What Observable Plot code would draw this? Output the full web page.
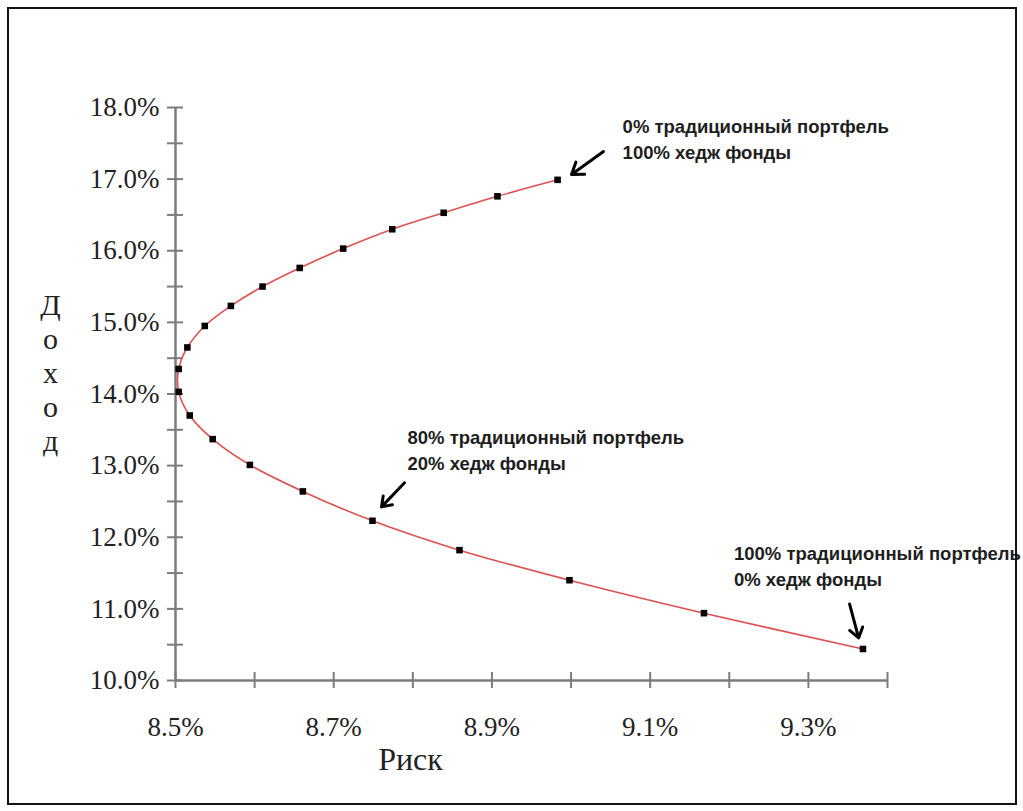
<!DOCTYPE html>
<html>
<head>
<meta charset="utf-8">
<script src="https://cdn.jsdelivr.net/npm/d3@7"></script>
<script src="https://cdn.jsdelivr.net/npm/@observablehq/plot@0.6"></script>
<style>
  html, body { margin: 0; padding: 0; background: #fff; }
  #wrap { position: relative; width: 1023px; height: 811px; overflow: hidden; }
  #frame { position: absolute; left: 7px; top: 7px; width: 1010px; height: 798px; box-sizing: border-box; border: 2px solid #111; pointer-events: none; }
</style>
</head>
<body>
<div id="wrap"><div id="chart"></div><div id="frame"></div></div>
<script>
// Share of hedge funds in the portfolio, % (0 → 100 in steps of 5)
const hedgeShare = [0, 5, 10, 15, 20, 25, 30, 35, 40, 45, 50, 55, 60, 65, 70, 75, 80, 85, 90, 95, 100];
// Risk, %
const risk = [9.369, 9.168, 8.998, 8.859, 8.749, 8.661, 8.594, 8.547, 8.518, 8.504, 8.504, 8.515, 8.537, 8.570, 8.610, 8.657, 8.712, 8.774, 8.839, 8.907, 8.983];
// Return, %
const ret = [10.44, 10.94, 11.40, 11.82, 12.23, 12.64, 13.01, 13.37, 13.70, 14.03, 14.35, 14.65, 14.95, 15.23, 15.50, 15.76, 16.03, 16.30, 16.53, 16.76, 16.99];

const xTicks = [8.5, 8.6, 8.7, 8.8, 8.9, 9.0, 9.1, 9.2, 9.3, 9.4];
const xTickLabels = [8.5, 8.7, 8.9, 9.1, 9.3];
const yTicks = [10, 10.5, 11, 11.5, 12, 12.5, 13, 13.5, 14, 14.5, 15, 15.5, 16, 16.5, 17, 17.5, 18];
const yTickLabels = [10, 11, 12, 13, 14, 15, 16, 17, 18];

const xLabel = "Риск";
const yLabel = "Доход";

// Annotations: index of the annotated point and its two text lines
const annoIndex = [20, 4, 0];
const annoText = [
  "0% традиционный портфель\n100% хедж фонды",
  "80% традиционный портфель\n20% хедж фонды",
  "100% традиционный портфель\n0% хедж фонды"
];
// Arrows (risk %, return %) from tail to head
const arrowX1 = [9.041, 8.7895, 9.352];
const arrowY1 = [17.385, 12.760, 11.069];
const arrowX2 = [9.0006, 8.7604, 9.3635];
const arrowY2 = [17.064, 12.424, 10.594];

const pts = hedgeShare.map((h, i) => ({hedge: h, risk: risk[i], ret: ret[i]}));
const arrows = arrowX1.map((d, i) => ({x1: d, y1: arrowY1[i], x2: arrowX2[i], y2: arrowY2[i]}));
const annos = annoIndex.map((k, i) => ({risk: risk[k], ret: ret[k], text: annoText[i]}));

const axisColor = "#7c7c7c";
const textColor = "#222";
const annoStyle = {fontFamily: "Liberation Sans, Arial, sans-serif", fontWeight: "bold", fontSize: 18.5, fill: "#1e1e1e", textAnchor: "start", lineAnchor: "middle", lineHeight: 1.4};

const chart = Plot.plot({
  width: 1023,
  height: 811,
  marginLeft: 175,
  marginRight: 136,
  marginTop: 107,
  marginBottom: 131,
  x: {domain: [8.5, 9.4]},
  y: {domain: [10, 18]},
  style: {fontFamily: "Liberation Serif, 'Times New Roman', serif", background: "transparent", overflow: "visible"},
  marks: [
    // axis lines
    Plot.ruleX([8.5], {y1: 10, y2: 18, stroke: axisColor, strokeWidth: 2.5}),
    Plot.ruleY([10], {x1: 8.5, x2: 9.4, stroke: axisColor, strokeWidth: 2.5}),
    // crossing ticks
    Plot.ruleY(yTicks, {y: d => d, x1: 8.5, x2: 8.5, insetLeft: -8, insetRight: -8, stroke: axisColor, strokeWidth: 2}),
    Plot.ruleX(xTicks, {x: d => d, y1: 10, y2: 10, insetTop: -8, insetBottom: -8, stroke: axisColor, strokeWidth: 2}),
    // tick labels
    Plot.axisY(yTickLabels, {tickSize: 0, tickPadding: 16, tickFormat: d => d.toFixed(1) + "%", fontSize: 27, fill: textColor, label: null, letterSpacing: "-1.5px"}),
    Plot.axisX(xTickLabels, {tickSize: 0, tickPadding: 36, tickFormat: d => d.toFixed(1) + "%", fontSize: 27, fill: textColor, label: null, letterSpacing: "-1.5px"}),
    // axis titles
    Plot.text([xLabel], {frameAnchor: "bottom", dx: -121, dy: 79, fontSize: 32, fill: textColor, textAnchor: "middle", lineAnchor: "middle"}),
    Plot.text([yLabel.split("").join("\n")], {frameAnchor: "left", dx: -125, dy: -22, fontSize: 30, lineHeight: 1.13, fill: textColor, textAnchor: "middle", lineAnchor: "middle"}),
    // frontier line and points
    Plot.line(pts, {x: "risk", y: "ret", stroke: "#e05050", strokeWidth: 1.6, curve: "catmull-rom"}),
    Plot.dot(pts, {x: "risk", y: "ret", symbol: "square", r: 3.7, fill: "#000", stroke: "none"}),
    // annotations
    Plot.arrow(arrows, {x1: "x1", y1: "y1", x2: "x2", y2: "y2", stroke: "#000", strokeWidth: 3, headLength: 12, headAngle: 70}),
    Plot.text([annos[0]], {x: "risk", y: "ret", text: "text", dx: 65, dy: -42, ...annoStyle}),
    Plot.text([annos[1]], {x: "risk", y: "ret", text: "text", dx: 35, dy: -72, ...annoStyle}),
    Plot.text([annos[2]], {x: "risk", y: "ret", text: "text", dx: -129, dy: -84, ...annoStyle})
  ]
});
document.getElementById("chart").appendChild(chart);
</script>
</body>
</html>
